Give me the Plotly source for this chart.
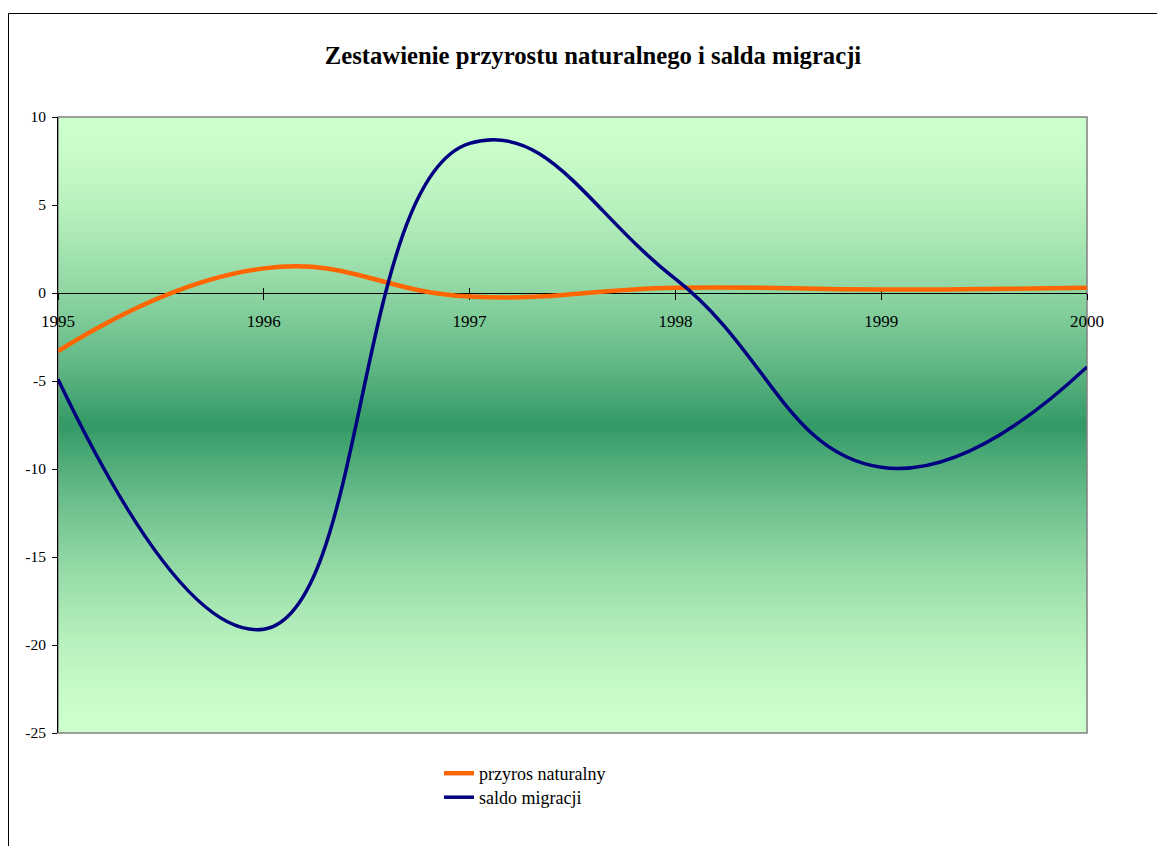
import plotly.graph_objects as go

years = [1995, 1996, 1997, 1998, 1999, 2000]
przyrost = [-3.3, 1.4, -0.2, 0.3, 0.2, 0.3]
saldo = [-4.9, -19.1, 8.5, 0.8, -9.9, -4.2]
y_ticks = [10, 5, 0, -5, -10, -15, -20, -25]

title_text = "Zestawienie przyrostu naturalnego i salda migracji"
name_przyrost = "przyros naturalny"
name_saldo = "saldo migracji"

SERIF = "Liberation Serif, Times New Roman, serif"
W, H = 1165, 846
L, R, T, B = 50, 86, 109, 121
YMIN, YMAX = -25, 10
pw = W - L - R
ph = H - T - B
bottom = H - B

fig = go.Figure()

fig.add_trace(go.Scatter(
    x=years, y=przyrost, name=name_przyrost, mode="lines", legend="legend",
    line=dict(color="#FF6600", width=4.5, shape="spline", smoothing=1.3),
    hoverinfo="skip"))
fig.add_trace(go.Scatter(
    x=years, y=saldo, name=name_saldo, mode="lines", legend="legend2",
    line=dict(color="#000080", width=3.5, shape="spline", smoothing=1.3),
    hoverinfo="skip"))
# invisible helper trace so the upward tick marks on the 0 line get drawn
fig.add_trace(go.Scatter(
    x=years, y=przyrost, xaxis="x2", mode="lines",
    line=dict(color="rgba(0,0,0,0)", width=0), showlegend=False, hoverinfo="skip"))

# gradient background (light at edges, dark in the middle)
light = (204, 255, 204)
dark = (51, 153, 102)
n = 140
shapes = []
mid = (YMIN + YMAX) / 2
step = (YMAX - YMIN) / n
for i in range(n):
    y0 = YMIN + i * step
    y1 = min(y0 + 2 * step, YMAX)
    yc = y0 + step / 2
    f = (1 - abs(yc - mid) / ((YMAX - YMIN) / 2)) ** 1.6
    c = tuple(round(light[k] + (dark[k] - light[k]) * f) for k in range(3))
    shapes.append(dict(type="rect", xref="x domain", yref="y", x0=0, x1=1,
                       y0=y0, y1=y1, layer="below",
                       fillcolor="rgb(%d,%d,%d)" % c, line=dict(width=0)))
# plot area border (grey)
shapes.append(dict(type="rect", xref="paper", yref="paper", x0=0, x1=1, y0=0, y1=1,
                   layer="below", line=dict(color="#808080", width=1.5),
                   fillcolor="rgba(0,0,0,0)"))
# outer chart frame
shapes.append(dict(type="rect", xref="paper", yref="paper",
                   x0=(0.5 - L) / pw, x1=(W + 20 - L) / pw,
                   y0=(bottom - (H + 20)) / ph, y1=(bottom - 5.5) / ph,
                   line=dict(color="black", width=1), fillcolor="rgba(0,0,0,0)"))

zero_pos = (0 - YMIN) / (YMAX - YMIN)

legend_common = dict(xanchor="left", yanchor="top", bgcolor="rgba(0,0,0,0)",
                     font=dict(family=SERIF, size=18, color="black"))

fig.update_layout(
    width=W, height=H,
    margin=dict(l=L, r=R, t=T, b=B),
    paper_bgcolor="white", plot_bgcolor="rgba(0,0,0,0)",
    shapes=shapes,
    title=dict(text="<b>%s</b>" % title_text, xref="container", x=585 / W, xanchor="center",
               y=1 - 47 / H, yanchor="middle",
               font=dict(family=SERIF, size=24.7, color="black")),
    xaxis=dict(range=[1995, 2000], tickmode="array", tickvals=years,
               ticktext=[str(v) for v in years],
               anchor="free", position=zero_pos, showline=True, linecolor="black",
               linewidth=1, ticks="outside", ticklen=6, tickcolor="black",
               ticklabelstandoff=7,
               showgrid=False, zeroline=False, layer="below traces",
               tickfont=dict(family=SERIF, size=17, color="black")),
    xaxis2=dict(range=[1995, 2000], tickmode="array", tickvals=years,
                overlaying="x", anchor="free", position=zero_pos, showline=False,
                ticks="inside", ticklen=5, tickcolor="black", showticklabels=False,
                showgrid=False, zeroline=False, layer="below traces"),
    yaxis=dict(range=[YMIN, YMAX], tickmode="array", tickvals=y_ticks,
               ticktext=[str(v) for v in y_ticks],
               showline=True, linecolor="black", linewidth=1, ticks="outside",
               ticklen=5, tickcolor="black", showgrid=False, zeroline=False,
               ticklabelstandoff=3,
               layer="below traces",
               tickfont=dict(family=SERIF, size=15.5, color="black")),
    legend=dict(x=(431 - L) / pw, y=(bottom - 747) / ph, **legend_common),
    legend2=dict(x=(431 - L) / pw, y=(bottom - 771) / ph, **legend_common),
    showlegend=True,
)

fig.write_html("out.html")
